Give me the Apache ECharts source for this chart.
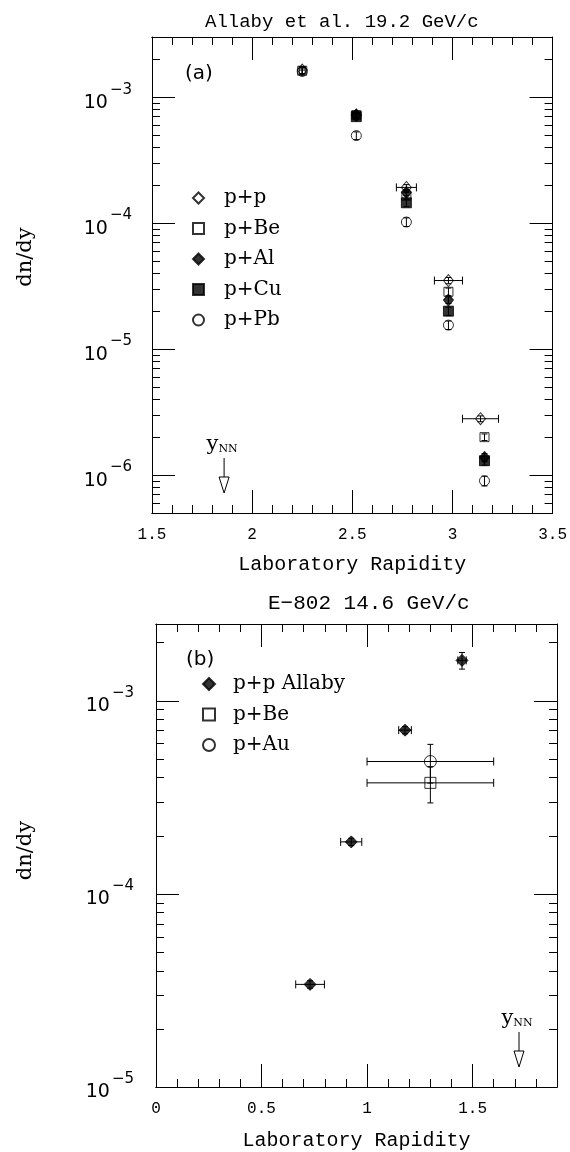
<!DOCTYPE html>
<html>
<head>
<meta charset="utf-8" />
<title>dn/dy vs laboratory rapidity</title>
<script src="https://cdn.jsdelivr.net/npm/echarts@6/dist/echarts.min.js"></script>
<style type="text/css">
html, body { margin: 0; padding: 0; background: #fff; }
#main { width: 570px; height: 1152px; }
</style>
</head>
<body>
<div id="main"></div>
<script type="text/javascript">
// ---- panel (a): Allaby et al. 19.2 GeV/c ----
var rapA = [2.25, 2.52, 2.77, 2.98, 3.16];
var rapA_pp = [2.25, 2.52, 2.77, 2.98, 3.14];
var rapErrA_pp = [0.015, 0.02, 0.05, 0.07, 0.09];
var dndyA_pp = [1.64e-3, 7.2e-4, 1.92e-4, 3.5e-5, 2.8e-6];
var dndyA_Be = [1.62e-3, 7.2e-4, 1.65e-4, 2.85e-5, 2.0e-6];
var dndyA_Al = [null, 7.2e-4, 1.75e-4, 2.45e-5, 1.38e-6];
var dndyA_Cu = [null, 7.0e-4, 1.45e-4, 2.0e-5, 1.3e-6];
var dndyA_Pb = [1.6e-3, 4.95e-4, 1.02e-4, 1.55e-5, 9.0e-7];
var errA_pp = [1.0e-4, 4e-5, 1.0e-5, 2.0e-6, 1.5e-7];
var errA_Be = [1.0e-4, 4e-5, 1.0e-5, 2.0e-6, 1.2e-7];
var errA_Al = [null, 4e-5, 1.0e-5, 1.5e-6, 1.0e-7];
var errA_Cu = [null, 4e-5, 1.0e-5, 1.5e-6, 1.0e-7];
var errA_Pb = [1.0e-4, 3.5e-5, 8e-6, 1.2e-6, 8e-8];
var yNN_A = 1.86;
var xRangeA = [1.5, 3.5];
var yRangeA = [5e-7, 3e-3];

// ---- panel (b): E-802 14.6 GeV/c ----
var rapB_pp = [0.73, 0.925, 1.18, 1.45];
var rapErrB_pp = [0.068, 0.05, 0.03, 0.02];
var dndyB_pp = [3.4e-5, 1.86e-4, 7.05e-4, 1.62e-3];
var errB_pp = [1.5e-6, 8e-6, 3e-5, 1.6e-4];
var rapB_Be = [1.3];
var rapErrB_Be = [0.3];
var dndyB_Be = [3.76e-4];
var errB_Be = [8e-5];
var rapB_Au = [1.3];
var rapErrB_Au = [0.3];
var dndyB_Au = [4.85e-4];
var errB_Au = [1.1e-4];
var yNN_B = 1.72;
var xRangeB = [0, 1.9];
var yRangeB = [1e-5, 2.5e-3];

var monoFont = 'Liberation Mono';
var serifFont = 'DejaVu Serif';

function pts(xs, ys) {
	var out = [];
	for (var i = 0; i < ys.length; i++) {
		if (ys[i] != null) out.push([xs[i], ys[i]]);
	}
	return out;
}

// [x, y, xlo, xhi, ylo, yhi]
function errPts(xs, ys, xe, ye, out) {
	for (var i = 0; i < ys.length; i++) {
		if (ys[i] == null) continue;
		var dx = xe ? xe[i] : 0;
		var dy = ye ? ye[i] : 0;
		out.push([xs[i], ys[i], xs[i] - dx, xs[i] + dx, ys[i] - dy, ys[i] + dy]);
	}
	return out;
}

function renderErr(params, api) {
	var y = api.value(1);
	var xl = api.value(2), xh = api.value(3), yl = api.value(4), yh = api.value(5);
	var kids = [];
	var st = { stroke: '#000', lineWidth: 1 };
	if (xh > xl) {
		var a = api.coord([xl, y]), b = api.coord([xh, y]);
		kids.push({ type: 'line', shape: { x1: a[0], y1: a[1], x2: b[0], y2: b[1] }, style: st });
		kids.push({ type: 'line', shape: { x1: a[0], y1: a[1] - 4, x2: a[0], y2: a[1] + 4 }, style: st });
		kids.push({ type: 'line', shape: { x1: b[0], y1: b[1] - 4, x2: b[0], y2: b[1] + 4 }, style: st });
	}
	if (yh > yl) {
		var x = api.value(0);
		var c = api.coord([x, yl]), d = api.coord([x, yh]);
		kids.push({ type: 'line', shape: { x1: c[0], y1: c[1], x2: d[0], y2: d[1] }, style: st });
		kids.push({ type: 'line', shape: { x1: c[0] - 3, y1: c[1], x2: c[0] + 3, y2: c[1] }, style: st });
		kids.push({ type: 'line', shape: { x1: d[0] - 3, y1: d[1], x2: d[0] + 3, y2: d[1] }, style: st });
	}
	return { type: 'group', children: kids };
}

// y_NN arrow, drawn from the bottom of the plot frame
function renderArrow(params, api) {
	var p = api.coord([api.value(0), api.value(1)]);
	var px = p[0];
	var bot = params.coordSys.y + params.coordSys.height;
	var st = { stroke: '#000', lineWidth: 1 };
	return {
		type: 'group',
		children: [
			{ type: 'line', shape: { x1: px, y1: bot - 55, x2: px, y2: bot - 36 }, style: st },
			{ type: 'polygon', shape: { points: [[px - 5, bot - 36], [px + 5, bot - 36], [px, bot - 20]] },
				style: { stroke: '#000', fill: '#fff', lineWidth: 1 } },
			{ type: 'text', x: px - 2, y: bot - 71,
				style: {
					text: '{a|y}{b|NN}', align: 'center', verticalAlign: 'middle',
					rich: {
						a: { fontFamily: serifFont, fontSize: 21, fill: '#000', lineHeight: 26, verticalAlign: 'bottom' },
						b: { fontFamily: serifFont, fontSize: 11, fill: '#000', lineHeight: 16, verticalAlign: 'bottom' }
					}
				}
			}
		]
	};
}

function logLabel(v) {
	var l = Math.log(v) / Math.LN10;
	var e = Math.round(l);
	if (Math.abs(l - e) > 1e-6) return '';
	return '{a|10}{b|\u2212' + (-e) + '}';
}

var labelRich = {
	a: { fontFamily: 'DejaVu Sans', fontSize: 19, color: '#000', lineHeight: 30, verticalAlign: 'bottom', padding: [0, 2, 0, 0] },
	b: { fontFamily: 'DejaVu Sans', fontSize: 15, color: '#000', lineHeight: 30, verticalAlign: 'top' }
};

var blackLine = { onZero: false, lineStyle: { color: '#000', width: 1 } };

function makeX(gi, range, interval, pos, opts) {
	var ax = {
		gridIndex: gi, type: 'value', position: pos, min: range[0], max: range[1], interval: interval,
		axisLine: blackLine,
		axisTick: { inside: true, length: interval > 0.2 ? 23 : 8, lineStyle: { color: '#000' } },
		axisLabel: { show: false },
		splitLine: { show: false }
	};
	return Object.assign(ax, opts || {});
}

function makeY(gi, range, pos, opts) {
	var ax = {
		gridIndex: gi, type: 'log', logBase: 10, position: pos, min: range[0], max: range[1],
		axisLine: blackLine,
		axisTick: { inside: true, length: 23, lineStyle: { color: '#000' } },
		minorTick: { show: true, splitNumber: 9, length: 8, lineStyle: { color: '#000' } },
		axisLabel: { show: false },
		splitLine: { show: false },
		minorSplitLine: { show: false }
	};
	return Object.assign(ax, opts || {});
}

var xNameStyle = { fontFamily: monoFont, fontSize: 20, color: '#000' };
var xLabelStyle = { fontFamily: monoFont, fontSize: 16, color: '#000', margin: 14 };

var xAxes = [
	makeX(0, xRangeA, 0.5, 'bottom', { axisLabel: xLabelStyle, name: 'Laboratory Rapidity', nameLocation: 'middle', nameGap: 42, nameTextStyle: xNameStyle }),
	makeX(0, xRangeA, 0.1, 'bottom'),
	makeX(0, xRangeA, 0.5, 'top'),
	makeX(0, xRangeA, 0.1, 'top'),
	makeX(1, xRangeB, 0.5, 'bottom', { axisLabel: Object.assign({ showMaxLabel: false }, xLabelStyle), name: 'Laboratory Rapidity', nameLocation: 'middle', nameGap: 44, nameTextStyle: xNameStyle }),
	makeX(1, xRangeB, 0.1, 'bottom'),
	makeX(1, xRangeB, 0.5, 'top'),
	makeX(1, xRangeB, 0.1, 'top')
];

var yNameStyle = { fontFamily: serifFont, fontSize: 21, color: '#000' };

var yAxes = [
	makeY(0, yRangeA, 'left', {
		axisLabel: { show: true, formatter: logLabel, rich: labelRich, margin: 20 },
		name: 'dn/dy', nameLocation: 'middle', nameGap: 116, nameRotate: 90,
		nameTextStyle: Object.assign({ padding: [0, 0, 0, 36] }, yNameStyle)
	}),
	makeY(0, yRangeA, 'right'),
	makeY(1, yRangeB, 'left', {
		axisLabel: { show: true, formatter: logLabel, rich: labelRich, margin: 22 },
		name: 'dn/dy', nameLocation: 'middle', nameGap: 120, nameRotate: 90,
		nameTextStyle: Object.assign({ padding: [0, 0, 0, 10] }, yNameStyle)
	}),
	makeY(1, yRangeB, 'right')
];

var openStyle = { color: 'rgba(255,255,255,0)', borderColor: '#000', borderWidth: 1 };
var fillStyle = { color: '#000', borderColor: '#000', borderWidth: 1 };

function sc(name, data, xi, yi, symbol, size, style) {
	return {
		name: name, type: 'scatter', xAxisIndex: xi, yAxisIndex: yi, data: data,
		symbol: symbol, symbolSize: size, itemStyle: style, z: 3,
		emphasis: { disabled: true }, silent: true
	};
}

var errA = [];
errPts(rapA_pp, dndyA_pp, rapErrA_pp, errA_pp, errA);
errPts(rapA, dndyA_Be, null, errA_Be, errA);
errPts(rapA, dndyA_Al, null, errA_Al, errA);
errPts(rapA, dndyA_Cu, null, errA_Cu, errA);
errPts(rapA, dndyA_Pb, null, errA_Pb, errA);

var errB = [];
errPts(rapB_pp, dndyB_pp, rapErrB_pp, errB_pp, errB);
errPts(rapB_Be, dndyB_Be, rapErrB_Be, errB_Be, errB);
errPts(rapB_Au, dndyB_Au, rapErrB_Au, errB_Au, errB);

var legendTextA = { fontFamily: serifFont, fontSize: 20, color: '#000', lineHeight: 20, padding: [0, 0, 0, 15] };
var legendTextB = { fontFamily: serifFont, fontSize: 20, color: '#000', lineHeight: 20, padding: [0, 0, 0, 13] };

var option = {
	backgroundColor: '#fff',
	animation: false,
	title: [
		{ text: 'Allaby et al. 19.2 GeV/c', left: 200, top: 7,
			textStyle: { fontFamily: monoFont, fontSize: 19, fontWeight: 'normal', color: '#000' } },
		{ text: 'E\u2212802 14.6 GeV/c', left: 263, top: 588,
			textStyle: { fontFamily: monoFont, fontSize: 21, fontWeight: 'normal', color: '#000' } },
		{ text: '(a)', left: 180, top: 59, textStyle: { fontFamily: 'DejaVu Sans', fontSize: 20, fontWeight: 'normal', color: '#000' } },
		{ text: '(b)', left: 181, top: 645, textStyle: { fontFamily: 'DejaVu Sans', fontSize: 20, fontWeight: 'normal', color: '#000' } }
	],
	legend: [
		{ data: ['p+p', 'p+Be', 'p+Al', 'p+Cu', 'p+Pb'], orient: 'vertical', left: 187, top: 183,
			itemWidth: 11, itemHeight: 11, itemGap: 10.5, selectedMode: false, textStyle: legendTextA },
		{ data: ['p+p Allaby', 'p+Be ', 'p+Au'], orient: 'vertical', left: 197, top: 669,
			itemWidth: 12, itemHeight: 12, itemGap: 10.5, selectedMode: false, textStyle: legendTextB }
	],
	grid: [
		{ left: 152, top: 37, width: 404, height: 476 },
		{ left: 156, top: 624, width: 401, height: 474 }
	],
	xAxis: xAxes,
	yAxis: yAxes,
	series: [
		{ type: 'custom', xAxisIndex: 0, yAxisIndex: 0, renderItem: renderErr, data: errA, z: 2, silent: true,
			encode: { x: 0, y: 1 } },
		sc('p+p', pts(rapA_pp, dndyA_pp), 0, 0, 'diamond', [10, 12], openStyle),
		sc('p+Be', pts(rapA, dndyA_Be), 0, 0, 'rect', 9, openStyle),
		sc('p+Al', pts(rapA, dndyA_Al), 0, 0, 'diamond', [10, 12], fillStyle),
		sc('p+Cu', pts(rapA, dndyA_Cu), 0, 0, 'rect', 10, fillStyle),
		sc('p+Pb', pts(rapA, dndyA_Pb), 0, 0, 'circle', 10, openStyle),
		{ type: 'custom', xAxisIndex: 0, yAxisIndex: 0, renderItem: renderArrow, data: [[yNN_A, yRangeA[0]]],
			silent: true, encode: { x: 0, y: 1 } },

		{ type: 'custom', xAxisIndex: 4, yAxisIndex: 2, renderItem: renderErr, data: errB, z: 2, silent: true,
			encode: { x: 0, y: 1 } },
		sc('p+p Allaby', pts(rapB_pp, dndyB_pp), 4, 2, 'diamond', [12, 12], fillStyle),
		sc('p+Be ', pts(rapB_Be, dndyB_Be), 4, 2, 'rect', 11, openStyle),
		sc('p+Au', pts(rapB_Au, dndyB_Au), 4, 2, 'circle', 12, openStyle),
		{ type: 'custom', xAxisIndex: 4, yAxisIndex: 2, renderItem: renderArrow, data: [[yNN_B, yRangeB[0]]],
			silent: true, encode: { x: 0, y: 1 } }
	]
};

var myChart = echarts.init(document.getElementById('main'));
myChart.setOption(option);
</script>
</body>
</html>
